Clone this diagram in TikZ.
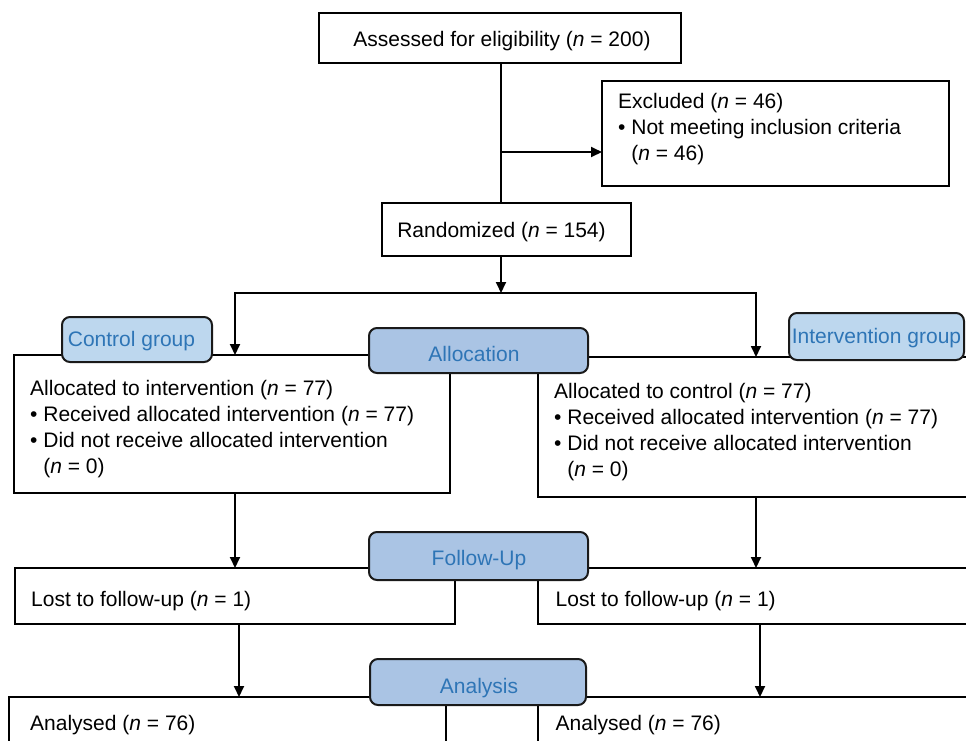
\documentclass[tikz,border=0pt]{standalone}
\usepackage{fontspec}
\setmainfont{Liberation Sans}
\usetikzlibrary{arrows.meta}
\definecolor{lblue}{HTML}{BDD7EE}
\definecolor{mblue}{HTML}{AAC4E4}
\definecolor{tblue}{HTML}{2E75B6}
\definecolor{edge}{HTML}{1A1A1A}
\begin{document}
\begin{tikzpicture}[x=1pt,y=-1pt,
  every node/.append style={font=\fontsize{21}{26}\selectfont},
  box/.style={draw=black, line width=1.8pt, fill=white, anchor=north west, inner sep=0pt, outer sep=0pt},
  tag/.style={draw=edge, line width=2pt, rounded corners=8pt, anchor=north west, inner sep=0pt, outer sep=0pt},
  txt/.style={anchor=base west, inner sep=0pt, text=black},
  tagtxt/.style={anchor=base, inner sep=0pt, text=tblue},
  ln/.style={line width=1.8pt},
  arr/.style={line width=1.8pt, -{Triangle[length=11pt,width=10pt]}}
]
\useasboundingbox (0,0) rectangle (966,740);
\clip (0,0) rectangle (966,740);
\fill[white] (0,0) rectangle (966,740);

% boxes
\node[box, minimum width=362pt, minimum height=50pt] (assess) at (319,13) {};
\node[box, minimum width=347pt, minimum height=105pt] (excl) at (602,81) {};
\node[box, minimum width=249pt, minimum height=53pt] (rand) at (382,203) {};
\node[box, minimum width=436pt, minimum height=138pt] (allocL) at (14,355) {};
\node[box, minimum width=470pt, minimum height=140pt] (allocR) at (538,357) {};
\node[box, minimum width=440pt, minimum height=56pt] (lostL) at (15,568) {};
\node[box, minimum width=470pt, minimum height=56pt] (lostR) at (538,568) {};
\node[box, minimum width=437pt, minimum height=100pt] (anaL) at (9,697) {};
\node[box, minimum width=470pt, minimum height=100pt] (anaR) at (538,697) {};

% texts
\node[txt, anchor=base] (assessT) at (502,46.5) {Assessed for eligibility (\textit{n} = 200)};
\node[txt] (exclT1) at (618,108) {Excluded (\textit{n} = 46)};
\node[txt] (exclT2) at (618,134) {\textbullet\ Not meeting inclusion criteria};
\node[txt] (exclT3) at (618,160) {\phantom{\textbullet\ }(\textit{n} = 46)};
\node[txt, anchor=base] (randT) at (501.5,237) {Randomized (\textit{n} = 154)};

\node[txt] (aLT1) at (30,395.5) {Allocated to intervention (\textit{n} = 77)};
\node[txt] (aLT2) at (30,421.5) {\textbullet\ Received allocated intervention (\textit{n} = 77)};
\node[txt] (aLT3) at (30,447.5) {\textbullet\ Did not receive allocated intervention};
\node[txt] (aLT4) at (30,473.5) {\phantom{\textbullet\ }(\textit{n} = 0)};

\node[txt] (aRT1) at (554,398.5) {Allocated to control (\textit{n} = 77)};
\node[txt] (aRT2) at (554,424.5) {\textbullet\ Received allocated intervention (\textit{n} = 77)};
\node[txt] (aRT3) at (554,450.5) {\textbullet\ Did not receive allocated intervention};
\node[txt] (aRT4) at (554,476.5) {\phantom{\textbullet\ }(\textit{n} = 0)};

\node[txt] (lLT) at (31,606) {Lost to follow-up (\textit{n} = 1)};
\node[txt] (lRT) at (555.5,606) {Lost to follow-up (\textit{n} = 1)};
\node[txt] (nLT) at (30,730) {Analysed (\textit{n} = 76)};
\node[txt] (nRT) at (555.5,730) {Analysed (\textit{n} = 76)};

% connectors
\coordinate (trunk) at (501,0);
\coordinate (brY) at (0,152);
\coordinate (hub) at (501,293);
\coordinate (hl) at (235,293);
\coordinate (hr) at (756,293);
\coordinate (xl1) at (235,0);
\coordinate (xr1) at (756,0);
\coordinate (xl2) at (239,0);
\coordinate (xr2) at (760,0);

\draw[ln] (trunk |- assess.south) -- (trunk |- rand.north);
\draw[arr] (trunk |- brY) -- (excl.west |- brY);
\draw[arr] (trunk |- rand.south) -- (hub);
\draw[arr] (hub) -| (hl |- allocL.north);
\draw[arr] (hub) -| (hr |- allocR.north);
\draw[arr] (xl1 |- allocL.south) -- (xl1 |- lostL.north);
\draw[arr] (xr1 |- allocR.south) -- (xr1 |- lostR.north);
\draw[arr] (xl2 |- lostL.south) -- (xl2 |- anaL.north);
\draw[arr] (xr2 |- lostR.south) -- (xr2 |- anaR.north);

% stage tags
\node[tag, fill=lblue, minimum width=150pt, minimum height=45pt] (ctrl) at (62,317) {};
\node[tagtxt] (ctrlT) at (131.5,346.7) {Control group};
\node[tag, fill=lblue, minimum width=175pt, minimum height=47pt] (interv) at (789,313) {};
\node[tagtxt] (intervT) at (876.5,343.3) {Intervention group};
\node[tag, fill=mblue, minimum width=219pt, minimum height=45pt] (alloc) at (369,328) {};
\node[tagtxt] (allocT) at (474,361.7) {Allocation};
\node[tag, fill=mblue, minimum width=219pt, minimum height=48pt] (follow) at (369,532) {};
\node[tagtxt] (followT) at (479,565) {Follow-Up};
\node[tag, fill=mblue, minimum width=216pt, minimum height=46pt] (anal) at (370,659) {};
\node[tagtxt] (analT) at (479,693.3) {Analysis};
\end{tikzpicture}
\end{document}
